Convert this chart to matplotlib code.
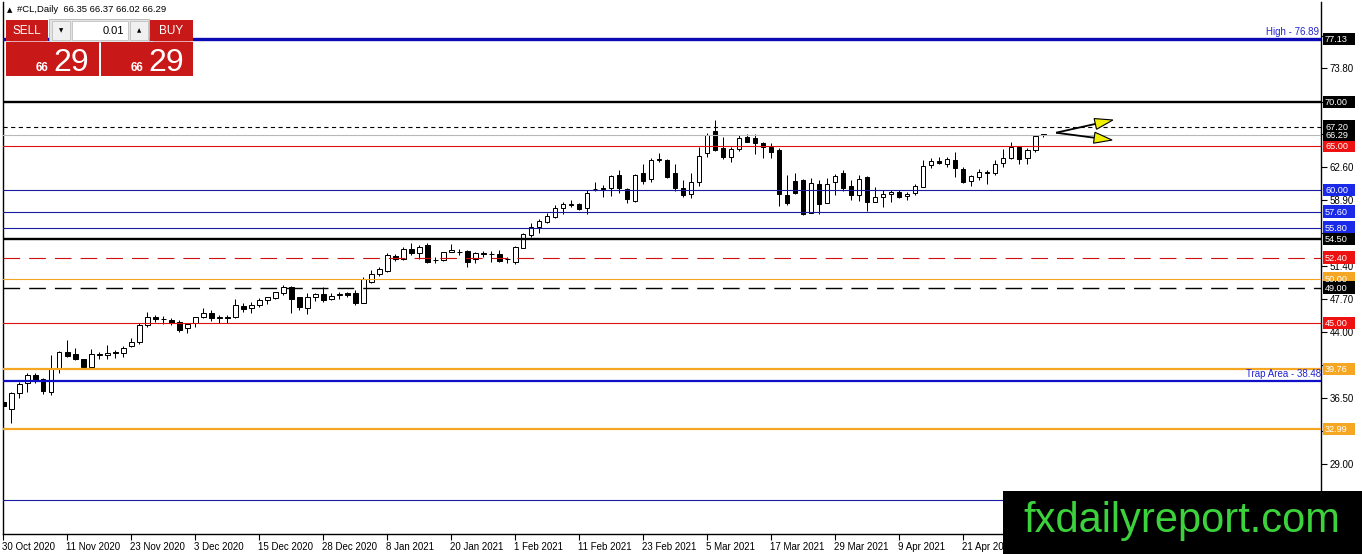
import matplotlib
matplotlib.use('Agg')
import matplotlib.pyplot as plt
import matplotlib.transforms as mtransforms
from matplotlib.patches import Rectangle, Polygon
import numpy as np

plt.rcParams['font.family'] = ['Liberation Sans', 'DejaVu Sans']
plt.rcParams['lines.scale_dashes'] = False

# ---------------- data ----------------
symbol = '#CL,Daily'
header_ohlc = [66.35, 66.37, 66.02, 66.29]
bid_price = 66.29

opens = [36.10, 35.24, 37.05, 38.18, 39.12, 38.63, 37.20, 39.77, 41.76, 41.50,
         40.90, 40.06, 41.40, 41.42, 41.70, 41.65, 42.44, 42.80, 44.80, 45.70,
         45.50, 45.34, 45.15, 44.40, 44.97, 45.64, 46.17, 45.55, 45.64, 45.64,
         46.93, 46.66, 47.04, 47.61, 47.87, 48.36, 49.11, 47.91, 46.66, 47.98,
         48.28, 47.68, 48.17, 48.36, 48.43, 47.30, 49.68, 50.51, 50.93, 52.59,
         52.21, 53.38, 52.89, 53.83, 52.10, 52.13, 53.00, 53.00, 53.15, 52.21,
         52.95, 52.81, 52.78, 52.20, 51.87, 53.53, 54.96, 55.90, 56.46, 57.03,
         58.05, 58.40, 58.46, 57.97, 60.14, 60.30, 60.24, 61.74, 60.16, 58.84,
         61.93, 61.25, 63.50, 63.44, 61.93, 60.24, 59.56, 60.99, 64.19, 66.72,
         64.83, 63.82, 64.65, 66.08, 65.89, 65.33, 64.95, 64.57, 59.48, 61.06,
         61.18, 57.48, 60.69, 58.61, 60.92, 61.93, 60.54, 59.48, 61.55, 58.73,
         59.22, 59.55, 59.78, 59.37, 59.67, 60.43, 62.88, 63.33, 62.99, 63.44,
         62.43, 61.07, 61.56, 62.00, 61.94, 63.07, 63.63, 64.95, 63.63, 64.57,
         66.35]
highs = [36.50, 37.25, 38.36, 39.38, 39.30, 38.75, 41.38, 41.80, 43.08, 42.14,
         40.95, 42.06, 41.76, 42.52, 41.95, 42.40, 43.27, 45.00, 46.20, 45.90,
         45.80, 45.53, 45.34, 45.04, 45.72, 46.66, 46.47, 45.91, 45.91, 47.68,
         47.23, 47.42, 47.79, 47.98, 48.55, 49.30, 49.19, 47.98, 48.43, 48.43,
         49.11, 48.36, 48.55, 48.55, 48.74, 50.20, 51.00, 51.30, 52.89, 52.81,
         53.57, 54.02, 53.83, 54.02, 52.51, 53.08, 53.91, 53.34, 53.26, 53.08,
         53.19, 53.19, 53.26, 52.51, 53.72, 55.23, 56.28, 56.73, 57.41, 58.35,
         58.73, 58.91, 58.61, 60.05, 60.99, 60.61, 61.74, 62.31, 60.24, 61.82,
         62.95, 63.63, 64.19, 63.51, 62.95, 61.18, 61.93, 64.95, 66.46, 67.96,
         66.08, 64.95, 66.27, 66.34, 66.34, 65.44, 65.33, 64.83, 61.74, 61.93,
         61.29, 61.44, 61.18, 61.44, 61.82, 62.31, 61.18, 61.74, 61.67, 60.42,
         60.05, 60.05, 60.05, 59.86, 60.73, 63.44, 63.63, 63.82, 63.82, 64.39,
         62.61, 61.75, 62.39, 62.31, 63.44, 64.65, 65.52, 65.03, 64.76, 66.27,
         66.37]
lows = [35.20, 33.66, 36.55, 37.23, 38.25, 36.97, 36.86, 39.38, 41.20, 40.82,
        39.99, 39.99, 40.90, 40.90, 41.00, 41.12, 42.26, 42.60, 44.60, 45.10,
        44.90, 44.78, 44.02, 43.91, 44.59, 45.53, 45.23, 45.04, 45.04, 45.53,
        46.29, 46.10, 46.85, 47.11, 47.72, 48.17, 46.10, 46.47, 46.02, 47.53,
        47.42, 47.61, 47.68, 47.98, 47.04, 47.23, 49.50, 50.32, 50.81, 52.06,
        52.13, 52.70, 52.21, 51.83, 51.76, 52.06, 53.00, 52.70, 51.38, 51.83,
        52.43, 51.87, 51.95, 51.76, 51.68, 53.45, 54.77, 55.14, 56.28, 56.84,
        57.29, 58.16, 57.78, 57.33, 59.93, 59.29, 59.40, 59.67, 58.54, 58.73,
        60.69, 60.99, 63.25, 61.37, 59.93, 59.29, 59.18, 60.50, 63.82, 64.46,
        63.55, 63.17, 64.50, 65.44, 64.08, 63.70, 63.63, 58.27, 58.35, 59.59,
        57.26, 57.41, 57.33, 58.54, 59.48, 59.93, 58.91, 58.80, 57.67, 58.65,
        58.16, 58.73, 59.10, 58.92, 59.48, 60.35, 62.50, 62.99, 62.69, 61.56,
        60.88, 60.50, 61.18, 60.73, 61.75, 62.69, 63.52, 62.99, 62.95, 64.39,
        66.02]
closes = [35.60, 37.12, 38.10, 39.12, 38.56, 37.35, 39.77, 41.76, 41.30, 40.90,
          40.06, 41.46, 41.50, 41.65, 41.62, 42.14, 42.82, 44.80, 45.70, 45.50,
          45.40, 44.97, 44.21, 44.90, 45.64, 46.10, 45.53, 45.64, 45.62, 47.00,
          46.55, 47.04, 47.61, 47.91, 48.47, 49.04, 47.68, 46.85, 47.98, 48.28,
          47.61, 48.06, 48.23, 48.17, 47.23, 50.00, 50.55, 51.08, 52.70, 52.21,
          53.34, 52.89, 53.64, 51.95, 52.13, 53.00, 53.26, 53.02, 51.95, 52.89,
          52.85, 52.76, 52.06, 52.21, 53.64, 55.07, 55.90, 56.54, 57.10, 58.05,
          58.46, 58.43, 57.86, 59.67, 60.20, 60.20, 61.67, 60.24, 58.99, 61.74,
          61.10, 63.44, 63.57, 61.55, 60.24, 59.48, 60.99, 63.93, 66.27, 64.57,
          63.74, 64.68, 65.89, 65.51, 65.33, 64.87, 64.38, 59.56, 58.54, 59.67,
          57.33, 60.80, 58.42, 60.69, 61.63, 60.31, 59.48, 61.29, 58.73, 59.29,
          59.59, 59.78, 59.29, 59.60, 60.50, 62.77, 63.37, 63.14, 63.52, 62.58,
          60.99, 61.63, 62.12, 62.10, 62.95, 63.63, 64.95, 63.52, 64.57, 66.16,
          66.29]

date_labels = ['30 Oct 2020', '11 Nov 2020', '23 Nov 2020', '3 Dec 2020', '15 Dec 2020',
               '28 Dec 2020', '8 Jan 2021', '20 Jan 2021', '1 Feb 2021', '11 Feb 2021',
               '23 Feb 2021', '5 Mar 2021', '17 Mar 2021', '29 Mar 2021', '9 Apr 2021',
               '21 Apr 2021', '3 May 2021']
bars_per_label = 8

price_ticks = [25.30, 29.00, 32.75, 36.50, 40.25, 44.00, 47.70, 51.40, 55.15,
               58.90, 62.60, 66.35, 70.05, 73.80, 77.50]

level_prices = [77.13, 70.00, 67.20, 65.00, 60.00, 57.60, 55.80, 54.50, 52.40,
                50.00, 49.00, 45.00, 39.76, 38.48, 32.99, 25.00]
level_kinds = ['blue_thick', 'black_thick', 'black_dot', 'red', 'blue', 'blue', 'blue',
               'black_thick', 'red_dash', 'orange', 'black_dash', 'red', 'orange_thick',
               'trap', 'orange_thick', 'blue_nolabel']
high_text = 'High - 76.89'
trap_text = 'Trap Area - 38.48'

arrow_tail = (131.6, 66.53)
arrow_tips = [(138.7, 67.97), (138.6, 65.70)]

watermark = 'fxdailyreport.com'

# ---------------- figure ----------------
W, H = 1362, 554
fig = plt.figure(figsize=(W / 100, H / 100), dpi=100)
fig.patch.set_facecolor('white')

ax_l, ax_r, ax_t, ax_b = 3, 1321, 2, 534
ax = fig.add_axes([ax_l / W, 1 - ax_b / H, (ax_r - ax_l) / W, (ax_b - ax_t) / H])
px_per_bar = 8.0
x0_px = 3.3
ax.set_xlim((ax_l - x0_px) / px_per_bar, (ax_r - x0_px) / px_per_bar)
ax.set_ylim(21.13, 81.32)
ax.set_facecolor('white')

ax.spines['top'].set_visible(False)
for s in ['left', 'right', 'bottom']:
    ax.spines[s].set_linewidth(1.0)
    ax.spines[s].set_color('black')

# candles
o = np.array(opens); h = np.array(highs); l = np.array(lows); c = np.array(closes)
idx = np.arange(len(o))
up = c >= o
lw_px = 0.72
ax.vlines(idx, l, h, color='black', linewidth=lw_px, zorder=2)
bw = 0.55
ax.bar(idx[up], (c - o)[up], bottom=o[up], width=bw, facecolor='white',
       edgecolor='black', linewidth=lw_px, zorder=3)
ax.bar(idx[~up], (o - c)[~up], bottom=c[~up], width=bw, facecolor='black',
       edgecolor='black', linewidth=lw_px, zorder=3)

# level lines
styles = {
    'blue_thick': dict(color='#0a0ab4', lw=2.4, ls='-', bg='black'),
    'black_thick': dict(color='black', lw=1.7, ls='-', bg='black'),
    'black_dot': dict(color='black', lw=0.8, ls=(0, (3.0, 2.5)), bg='black'),
    'red': dict(color='#e01010', lw=0.8, ls='-', bg='#ee1111'),
    'blue': dict(color='#1a1aa0', lw=0.8, ls='-', bg='#1a2ae8'),
    'red_dash': dict(color='#d01010', lw=0.8, ls=(0, (12.0, 6.5)), bg='#ee1111'),
    'orange': dict(color='#f2a524', lw=0.8, ls='-', bg='#f5a623'),
    'black_dash': dict(color='black', lw=1.0, ls=(0, (12.0, 6.5)), bg='black'),
    'orange_thick': dict(color='#f5a623', lw=1.6, ls='-', bg='#f5a623'),
    'trap': dict(color='#1010c8', lw=1.6, ls='-', bg=None),
    'blue_nolabel': dict(color='#1a1aa0', lw=0.8, ls='-', bg=None),
}
for p, k in zip(level_prices, level_kinds):
    st = styles[k]
    ax.axhline(p, color=st['color'], lw=st['lw'], ls=st['ls'], zorder=4)

ax.axhline(bid_price, color='#b8b8b8', lw=0.8, zorder=4)

# y ticks on right; labels hidden where a level label box covers them (as in MT4)
labelled = [p for p, k in zip(level_prices, level_kinds) if styles[k]['bg'] is not None]
labelled.append(bid_price)
px_per_price = (ax_b - ax_t) / (81.32 - 21.13)
def covered(v):
    return any(abs(v - p) * px_per_price < 7 for p in labelled) or v < 27
ax.yaxis.tick_right()
ax.set_yticks(price_ticks)
ax.set_yticklabels(['' if covered(v) else f'{v:.2f}' for v in price_ticks], fontsize=7)
ax.tick_params(axis='y', direction='out', length=4, width=0.8, pad=2, colors='black')

# x ticks
xt = [i * bars_per_label for i in range(len(date_labels))]
ax.set_xticks(xt)
ax.set_xticklabels(date_labels, fontsize=7, ha='left')
ax.tick_params(axis='x', direction='out', length=4, width=0.8, pad=2)
offset = mtransforms.ScaledTranslation(-1 / 100, 0, fig.dpi_scale_trans)
for lab in ax.get_xticklabels():
    lab.set_horizontalalignment('left')
    lab.set_transform(lab.get_transform() + offset)

tr = mtransforms.blended_transform_factory(ax.transAxes, ax.transData)
ax.text(0.9985, level_prices[0] + 0.25, high_text, transform=tr, fontsize=7,
        color='#2323d0', ha='right', va='bottom', zorder=6)
ax.text(1.0, 38.48 + 0.2, trap_text, transform=tr, fontsize=7,
        color='#2323d0', ha='right', va='bottom', zorder=6)

# arrows
fig.canvas.draw()
T = ax.transData
Ti = T.inverted()
tail_px = T.transform(arrow_tail)
for tip in arrow_tips:
    tip_px = T.transform(tip)
    d = tip_px - tail_px
    L = np.hypot(*d)
    u = d / L
    n = np.array([-u[1], u[0]])
    base = tip_px - u * 18
    ax.plot(*Ti.transform(np.array([tail_px, base])).T, color='black', lw=1.3, zorder=7,
            solid_capstyle='butt')
    tri = np.array([tip_px, base + n * 5.5, base - n * 5.5])
    ax.add_patch(Polygon(Ti.transform(tri), closed=True, facecolor='#f0f000',
                         edgecolor='black', lw=0.8, zorder=8))

# ---------------- overlay (pixel coordinates) ----------------
ov = fig.add_axes([0, 0, 1, 1], zorder=20)
ov.set_xlim(0, W)
ov.set_ylim(H, 0)
ov.axis('off')
ov.patch.set_alpha(0)

def price_to_py(p):
    return H - T.transform((0, p))[1]

def axis_label(p, bg):
    yc = price_to_py(p)
    ov.add_patch(Rectangle((1323, yc - 6.5), 32, 12.5, facecolor=bg, edgecolor='none'))
    ov.text(1325, yc + 0.5, f'{p:.2f}', fontsize=6.6, color='white', va='center', ha='left')

for p, k in zip(level_prices, level_kinds):
    bg = styles[k]['bg']
    if bg is not None:
        axis_label(p, bg)
axis_label(bid_price, 'black')

ov.text(7, 10, '\u25b2', fontsize=5, va='center', ha='left', family=['DejaVu Sans'])
ov.text(17, 10, f'{symbol}  ' + ' '.join(f'{v:.2f}' for v in header_ohlc),
        fontsize=6.8, va='center', ha='left')

red = '#c81818'
ov.add_patch(Rectangle((6, 20), 42, 21, facecolor=red, edgecolor='none'))
ov.add_patch(Rectangle((150, 20), 43, 21, facecolor=red, edgecolor='none'))
ov.text(27, 30.5, 'SELL', color='white', fontsize=8.5, ha='center', va='center')
ov.text(171, 30.5, 'BUY', color='white', fontsize=8.5, ha='center', va='center')
ov.plot([10, 46], [40.5, 40.5], color='#e8a0a0', lw=0.6)
ov.plot([153, 190], [40.5, 40.5], color='#e8a0a0', lw=0.6)
ov.add_patch(Rectangle((49, 19), 100, 23, facecolor='#e4e4e4', edgecolor='#b0b0b0', lw=0.6))
ov.add_patch(Rectangle((52, 21), 18, 19, facecolor='#f0f0f0', edgecolor='#c0c0c0', lw=0.6))
ov.add_patch(Rectangle((72, 21), 56, 19, facecolor='white', edgecolor='#c0c0c0', lw=0.6))
ov.add_patch(Rectangle((130, 21), 18, 19, facecolor='#f0f0f0', edgecolor='#c0c0c0', lw=0.6))
ov.text(61, 30.5, '\u25bc', fontsize=4, ha='center', va='center', family=['DejaVu Sans'])
ov.text(139, 30.5, '\u25b2', fontsize=4, ha='center', va='center', family=['DejaVu Sans'])
ov.text(124, 30.5, '0.01', fontsize=8, ha='right', va='center')
ov.add_patch(Rectangle((6, 42), 93, 34, facecolor=red, edgecolor='none'))
ov.add_patch(Rectangle((101, 42), 92, 34, facecolor=red, edgecolor='none'))
big = f'{bid_price:.2f}'.split('.')
for bx in (36, 131):
    ov.text(bx, 71, big[0], color='white', fontsize=8.5, ha='left', va='baseline',
            fontweight='bold')
    ov.text(bx + 17, 71, big[1], color='white', fontsize=23, ha='left', va='baseline')

ov.add_patch(Rectangle((1003, 491), W - 1003, H - 491, facecolor='black', edgecolor='none'))
ov.text(1182, 532, watermark, color='#3cd23c', fontsize=30, ha='center', va='baseline')

fig.savefig('out.png', dpi=100, facecolor='white')
